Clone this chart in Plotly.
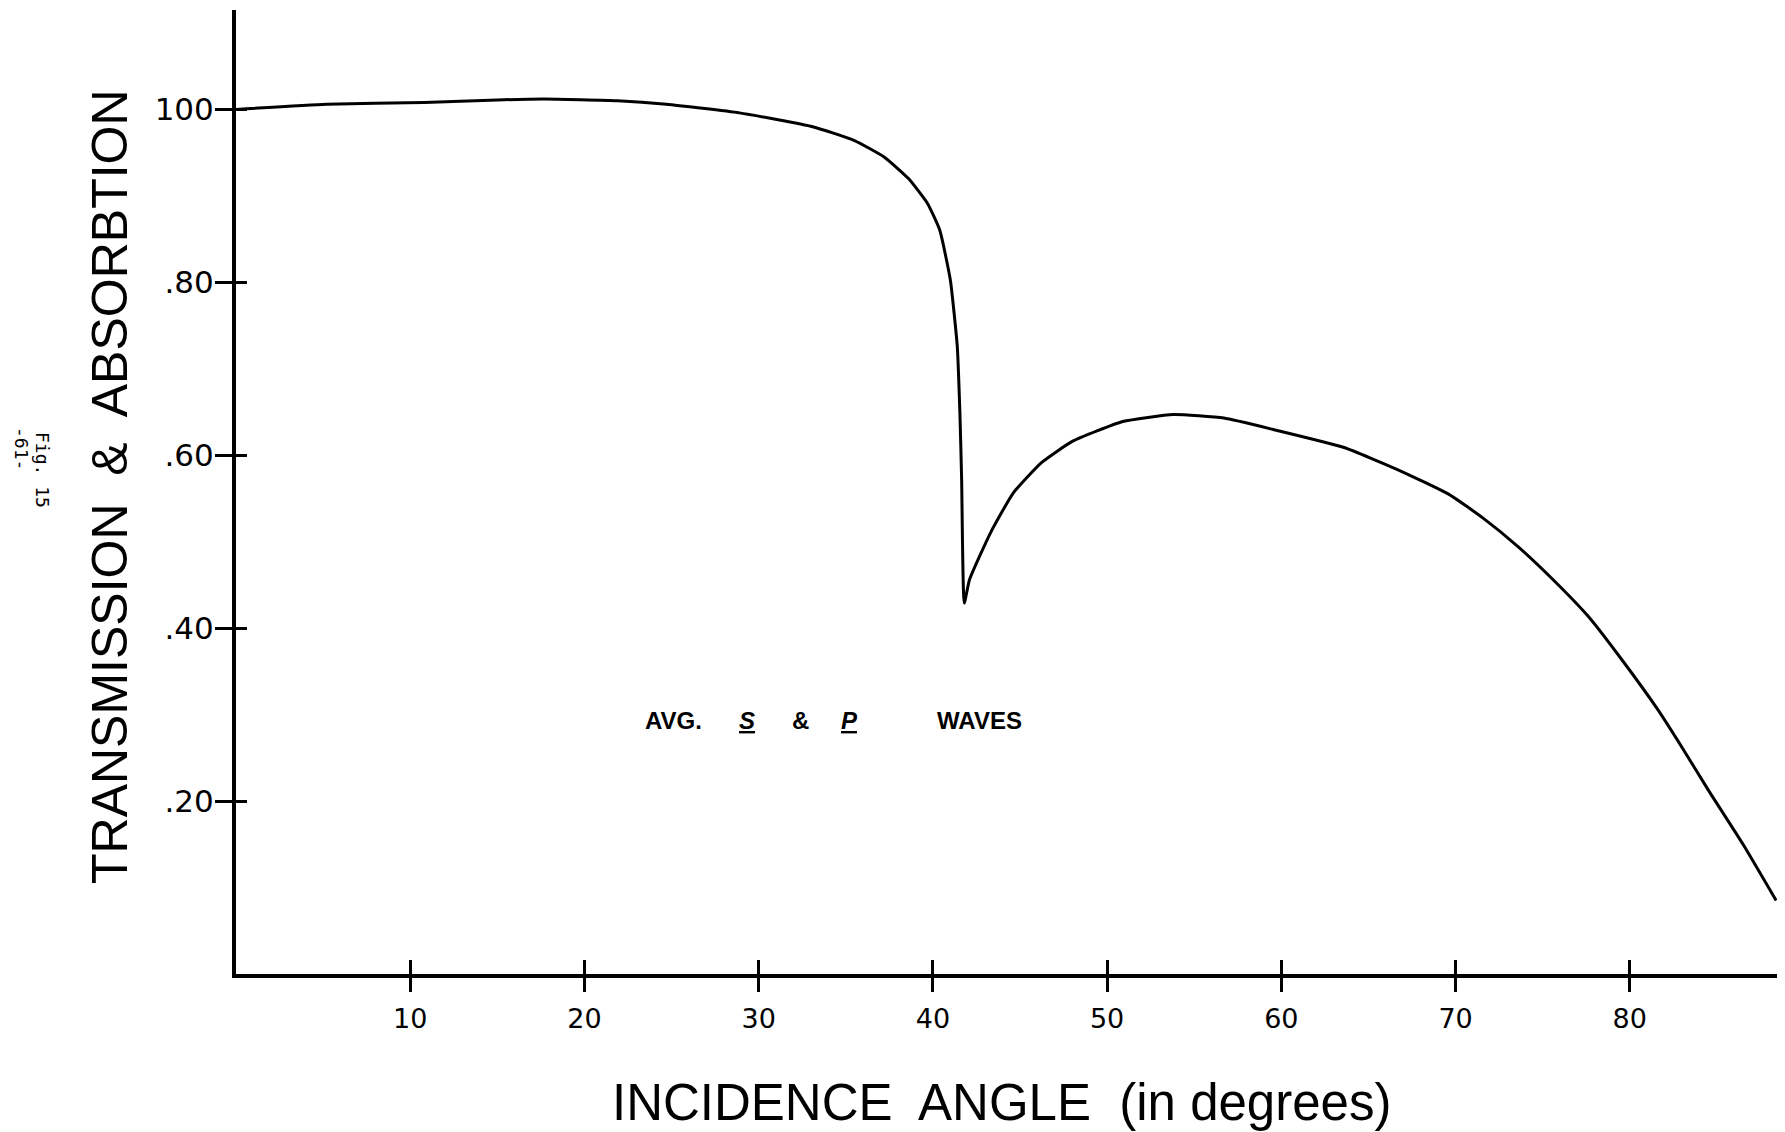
import plotly.graph_objects as go

# Average transmission & absorption of S and P waves vs. incidence angle
angle_deg = [0, 5.2, 10.8, 15.0, 17.7, 21.9, 24.7, 28.9, 33.1, 35.5, 37.2, 38.6,
             39.7, 40.4, 41.0, 41.4, 41.55, 41.65, 41.8, 42.1, 43.3, 44.6, 46.2,
             48.0, 50.9, 53.8, 56.7, 59.5, 63.6, 66.6, 69.6, 71.6, 73.6, 75.6,
             77.6, 79.6, 81.6, 83.0, 84.5, 86.5, 88.4]
trans_abs = [1.000, 1.006, 1.008, 1.011, 1.012, 1.010, 1.006, 0.996, 0.980, 0.964,
             0.945, 0.920, 0.891, 0.860, 0.803, 0.726, 0.649, 0.572, 0.429, 0.456,
             0.510, 0.556, 0.591, 0.616, 0.639, 0.647, 0.643, 0.630, 0.609, 0.584,
             0.555, 0.527, 0.494, 0.456, 0.414, 0.362, 0.306, 0.262, 0.213, 0.150,
             0.085]

x_ticks = [10, 20, 30, 40, 50, 60, 70, 80]
x_tick_text = ["10", "20", "30", "40", "50", "60", "70", "80"]
y_ticks = [0.2, 0.4, 0.6, 0.8, 1.0]
y_tick_text = [".20", ".40", ".60", ".80", "100"]

W, H = 1785, 1132
ML, MR, MT, MB = 236, 8, 10, 158
PW, PH = W - ML - MR, H - MT - MB
X_RANGE = [0, 88.45]
Y_RANGE = [0, 1.115]


def px(x):
    return (x - ML) / PW


def py(y):
    return (H - MB - y) / PH


fig = go.Figure()
fig.add_trace(go.Scatter(
    x=angle_deg, y=trans_abs, mode="lines",
    line=dict(color="black", width=3, shape="spline", smoothing=0.45),
    hoverinfo="skip", showlegend=False,
))
# empty trace so the inner-tick overlay axes are drawn
fig.add_trace(go.Scatter(x=[None], y=[None], xaxis="x2", yaxis="y2",
                         showlegend=False, hoverinfo="skip"))

x_tick_font = dict(family="DejaVu Sans", size=27, color="black")
y_tick_font = dict(family="DejaVu Sans", size=31, color="black")

fig.update_layout(
    width=W, height=H,
    margin=dict(l=ML, r=MR, t=MT, b=MB, pad=0),
    paper_bgcolor="white", plot_bgcolor="white",
    xaxis=dict(range=X_RANGE, tickvals=x_ticks, ticktext=x_tick_text,
               ticks="outside", ticklen=14, tickwidth=3, tickcolor="black",
               showline=True, linewidth=4, linecolor="black",
               showgrid=False, zeroline=False, tickfont=x_tick_font,
               ticklabelstandoff=4),
    yaxis=dict(range=Y_RANGE, tickvals=y_ticks, ticktext=y_tick_text,
               ticks="outside", ticklen=17, tickwidth=3, tickcolor="black",
               showline=True, linewidth=4, linecolor="black",
               showgrid=False, zeroline=False, tickfont=y_tick_font,
               ticklabelstandoff=-5),
    xaxis2=dict(range=X_RANGE, overlaying="x", anchor="y", side="bottom",
                tickvals=x_ticks, ticks="inside", ticklen=14, tickwidth=3,
                tickcolor="black", showticklabels=False, showline=False,
                showgrid=False, zeroline=False),
    yaxis2=dict(range=Y_RANGE, overlaying="y", anchor="x", side="left",
                tickvals=y_ticks, ticks="inside", ticklen=11, tickwidth=3,
                tickcolor="black", showticklabels=False, showline=False,
                showgrid=False, zeroline=False),
)

title_font = "Liberation Sans Narrow, Liberation Sans, Arial Narrow, sans-serif"

annotations = [
    dict(text="TRANSMISSION  &amp;  ABSORBTION", x=px(110), y=py(487),
         textangle=-90, font=dict(family=title_font, size=50, color="black")),
    dict(text="INCIDENCE  ANGLE  (in degrees)", x=px(1001), y=py(1102),
         font=dict(family=title_font, size=51, color="black")),
    dict(text="<b>AVG.</b>", x=px(673), y=py(720),
         font=dict(family="Liberation Sans", size=24, color="black")),
    dict(text="<b><i><u>S</u></i></b>", x=px(747), y=py(720),
         font=dict(family="Liberation Sans", size=24, color="black")),
    dict(text="<b>&amp;</b>", x=px(800), y=py(720),
         font=dict(family="Liberation Sans", size=24, color="black")),
    dict(text="<b><i><u>P</u></i></b>", x=px(849), y=py(720),
         font=dict(family="Liberation Sans", size=24, color="black")),
    dict(text="<b>WAVES</b>", x=px(979), y=py(720),
         font=dict(family="Liberation Sans", size=24, color="black")),
    dict(text="Fig. 15", x=px(42), y=py(470), textangle=90,
         font=dict(family="DejaVu Sans Mono", size=18, color="black")),
    dict(text="-61-", x=px(22), y=py(448), textangle=90,
         font=dict(family="DejaVu Sans Mono", size=18, color="black")),
]
for a in annotations:
    a.update(xref="paper", yref="paper", showarrow=False,
             xanchor="center", yanchor="middle")
fig.update_layout(annotations=annotations)

fig.write_html("out.html")
